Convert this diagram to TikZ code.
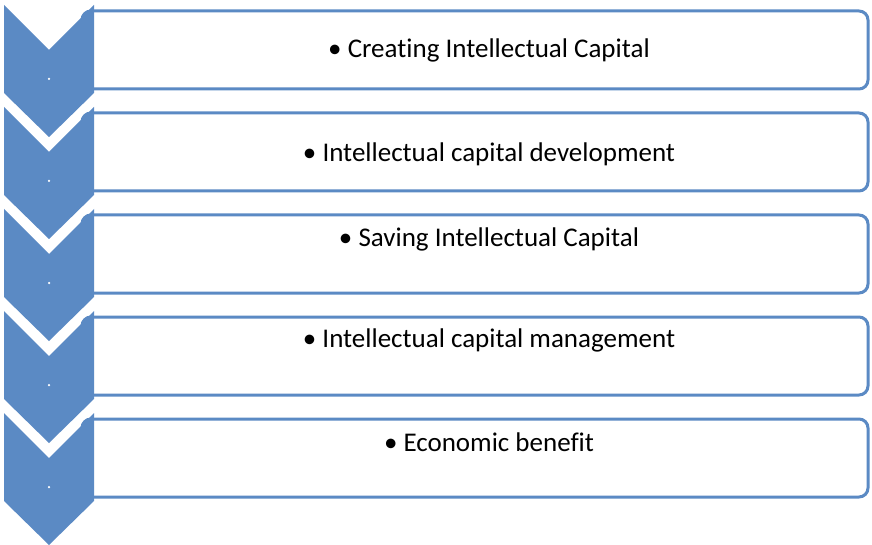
\documentclass[tikz,border=0pt]{standalone}
\usepackage{fontspec}
\setmainfont{Carlito}[Ligatures=NoCommon]
\usetikzlibrary{positioning}
\definecolor{stepBlue}{HTML}{5B8AC4}

\begin{document}
\begin{tikzpicture}[
    x=1pt, y=-1pt,
    stepBox/.style={rectangle, rounded corners=9pt, draw=stepBlue, line width=3pt, fill=white, minimum width=786pt, minimum height=78pt, inner sep=0pt},
    stepText/.style={font=\fontsize{27}{31}\selectfont, text=black, inner sep=0pt, anchor=center},
    chevronShape/.style={fill=stepBlue, draw=none},
    dotMark/.style={circle, fill=white, inner sep=0pt, minimum size=2.5pt}
]
    \useasboundingbox (0,0) rectangle (872,545);

    % boxes behind the chevrons
    \node[stepBox] (box1) at (475, 50) {};
    \node[stepBox] (box2) at (475, 152) {};
    \node[stepBox] (box3) at (475, 254) {};
    \node[stepBox] (box4) at (475, 356) {};
    \node[stepBox] (box5) at (475, 458) {};

    \node[stepText] (txt1) at (489, 50) {\textbullet\ Creating Intellectual Capital};
    \node[stepText] (txt2) at (489, 154) {\textbullet\ Intellectual capital development};
    \node[stepText] (txt3) at (489, 239) {\textbullet\ Saving Intellectual Capital};
    \node[stepText] (txt4) at (489, 340) {\textbullet\ Intellectual capital management};
    \node[stepText] (txt5) at (489, 442) {\textbullet\ Economic benefit};

    % chevrons down the left side
    \foreach \i in {0,...,4} {
        \pgfmathsetmacro{\yt}{5+102*\i}
        \fill[chevronShape] (4,\yt) -- (49,\yt+45) -- (94,\yt) -- (94,\yt+88)
            -- (49,\yt+132) -- (4,\yt+88) -- cycle;
        \node[dotMark] (dot\i) at (49,\yt+74) {};
    }
\end{tikzpicture}
\end{document}
